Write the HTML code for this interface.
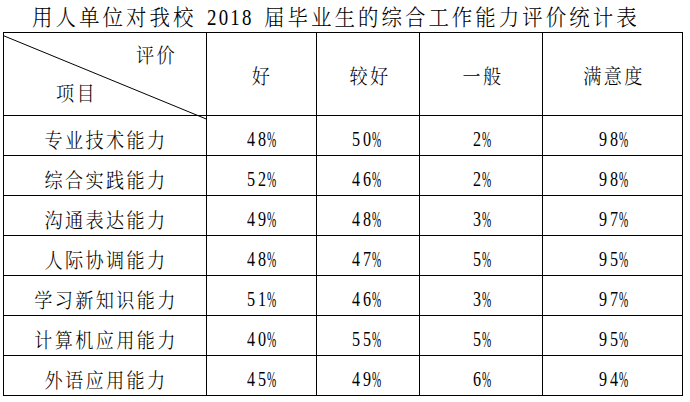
<!DOCTYPE html>
<html lang="zh-CN">
<head>
<meta charset="utf-8">
<title>用人单位对我校 2018 届毕业生的综合工作能力评价统计表</title>
<style>
html,body{margin:0;padding:0;background:#fff;}
body{width:690px;height:402px;position:relative;overflow:hidden;color:#000;
 font-family:"Liberation Serif","Noto Serif CJK SC",serif;}
.h,.v{position:absolute;background:#000;}
.h{left:3px;width:680px;height:1px;}
.v{top:32px;width:1px;height:364px;}
.t{position:absolute;white-space:nowrap;line-height:1;}
.c{font-family:"Noto Serif CJK SC","Liberation Serif",serif;font-size:20.3px;font-weight:300;letter-spacing:2.6px;transform-origin:0 0;transform:scaleX(0.895);}
.ti{font-family:"Noto Serif CJK SC","Liberation Serif",serif;font-size:22.0px;font-weight:300;letter-spacing:3.25px;transform-origin:0 0;transform:scaleX(0.93);}
.d{font-family:"Liberation Serif",serif;font-size:21.5px;letter-spacing:4.0px;transform-origin:0 0;transform:scaleX(0.75);}
.p{font-family:"Liberation Serif",serif;font-size:23.0px;transform-origin:0 0;transform:scaleX(0.48);}
.y{font-family:"Liberation Serif",serif;font-size:23.6px;letter-spacing:2.8px;transform-origin:0 0;transform:scaleX(0.8);}
.ctr{transform-origin:50% 0;transform:translateX(-50%) scaleX(0.895);}
svg{position:absolute;left:0;top:0;}
</style>
</head>
<body>

<div class="h" style="top:32px"></div>
<div class="h" style="top:115px"></div>
<div class="h" style="top:155px"></div>
<div class="h" style="top:195px"></div>
<div class="h" style="top:235px"></div>
<div class="h" style="top:275px"></div>
<div class="h" style="top:315px"></div>
<div class="h" style="top:355px"></div>
<div class="h" style="top:395px"></div>
<div class="v" style="left:3px"></div>
<div class="v" style="left:206px"></div>
<div class="v" style="left:316px"></div>
<div class="v" style="left:419px"></div>
<div class="v" style="left:542px"></div>
<div class="v" style="left:682px"></div>
<svg width="690" height="402" viewBox="0 0 690 402"><line x1="3.5" y1="35.7" x2="206.5" y2="119.1" stroke="#000" stroke-width="1"/></svg>
<div class="t ti" style="left:31.8px;top:4.9px">用人单位对我校</div>
<div class="t y" style="left:206.8px;top:5.9px">2018</div>
<div class="t ti" style="left:264.3px;top:4.9px">届毕业生的综合工作能力评价统计表</div>
<div class="t c" style="left:135.5px;top:44.6px">评价</div>
<div class="t c" style="left:56px;top:82.7px">项目</div>
<div class="t c ctr" style="left:262.1px;top:66px">好</div>
<div class="t c ctr" style="left:370.0px;top:66px">较好</div>
<div class="t c ctr" style="left:482.8px;top:66px">一般</div>
<div class="t c ctr" style="left:613.5px;top:66px">满意度</div>
<div class="t c ctr" style="left:105.9px;top:130.1px">专业技术能力</div>
<div class="t d" style="left:246.9px;top:129.1px">48</div>
<div class="t p" style="left:267.4px;top:128.2px">%</div>
<div class="t d" style="left:351.6px;top:129.1px">50</div>
<div class="t p" style="left:372.1px;top:128.2px">%</div>
<div class="t d" style="left:473.2px;top:129.1px">2</div>
<div class="t p" style="left:481.5px;top:128.2px">%</div>
<div class="t d" style="left:598.7px;top:129.1px">98</div>
<div class="t p" style="left:619.2px;top:128.2px">%</div>
<div class="t c ctr" style="left:105.9px;top:170.1px">综合实践能力</div>
<div class="t d" style="left:246.9px;top:169.1px">52</div>
<div class="t p" style="left:267.4px;top:168.2px">%</div>
<div class="t d" style="left:351.6px;top:169.1px">46</div>
<div class="t p" style="left:372.1px;top:168.2px">%</div>
<div class="t d" style="left:473.2px;top:169.1px">2</div>
<div class="t p" style="left:481.5px;top:168.2px">%</div>
<div class="t d" style="left:598.7px;top:169.1px">98</div>
<div class="t p" style="left:619.2px;top:168.2px">%</div>
<div class="t c ctr" style="left:105.9px;top:210.1px">沟通表达能力</div>
<div class="t d" style="left:246.9px;top:209.1px">49</div>
<div class="t p" style="left:267.4px;top:208.2px">%</div>
<div class="t d" style="left:351.6px;top:209.1px">48</div>
<div class="t p" style="left:372.1px;top:208.2px">%</div>
<div class="t d" style="left:473.2px;top:209.1px">3</div>
<div class="t p" style="left:481.5px;top:208.2px">%</div>
<div class="t d" style="left:598.7px;top:209.1px">97</div>
<div class="t p" style="left:619.2px;top:208.2px">%</div>
<div class="t c ctr" style="left:105.9px;top:250.1px">人际协调能力</div>
<div class="t d" style="left:246.9px;top:249.1px">48</div>
<div class="t p" style="left:267.4px;top:248.2px">%</div>
<div class="t d" style="left:351.6px;top:249.1px">47</div>
<div class="t p" style="left:372.1px;top:248.2px">%</div>
<div class="t d" style="left:473.2px;top:249.1px">5</div>
<div class="t p" style="left:481.5px;top:248.2px">%</div>
<div class="t d" style="left:598.7px;top:249.1px">95</div>
<div class="t p" style="left:619.2px;top:248.2px">%</div>
<div class="t c ctr" style="left:105.9px;top:290.1px">学习新知识能力</div>
<div class="t d" style="left:246.9px;top:289.1px">51</div>
<div class="t p" style="left:267.4px;top:288.2px">%</div>
<div class="t d" style="left:351.6px;top:289.1px">46</div>
<div class="t p" style="left:372.1px;top:288.2px">%</div>
<div class="t d" style="left:473.2px;top:289.1px">3</div>
<div class="t p" style="left:481.5px;top:288.2px">%</div>
<div class="t d" style="left:598.7px;top:289.1px">97</div>
<div class="t p" style="left:619.2px;top:288.2px">%</div>
<div class="t c ctr" style="left:105.9px;top:330.1px">计算机应用能力</div>
<div class="t d" style="left:246.9px;top:329.1px">40</div>
<div class="t p" style="left:267.4px;top:328.2px">%</div>
<div class="t d" style="left:351.6px;top:329.1px">55</div>
<div class="t p" style="left:372.1px;top:328.2px">%</div>
<div class="t d" style="left:473.2px;top:329.1px">5</div>
<div class="t p" style="left:481.5px;top:328.2px">%</div>
<div class="t d" style="left:598.7px;top:329.1px">95</div>
<div class="t p" style="left:619.2px;top:328.2px">%</div>
<div class="t c ctr" style="left:105.9px;top:370.1px">外语应用能力</div>
<div class="t d" style="left:246.9px;top:369.1px">45</div>
<div class="t p" style="left:267.4px;top:368.2px">%</div>
<div class="t d" style="left:351.6px;top:369.1px">49</div>
<div class="t p" style="left:372.1px;top:368.2px">%</div>
<div class="t d" style="left:473.2px;top:369.1px">6</div>
<div class="t p" style="left:481.5px;top:368.2px">%</div>
<div class="t d" style="left:598.7px;top:369.1px">94</div>
<div class="t p" style="left:619.2px;top:368.2px">%</div>
</body>
</html>
